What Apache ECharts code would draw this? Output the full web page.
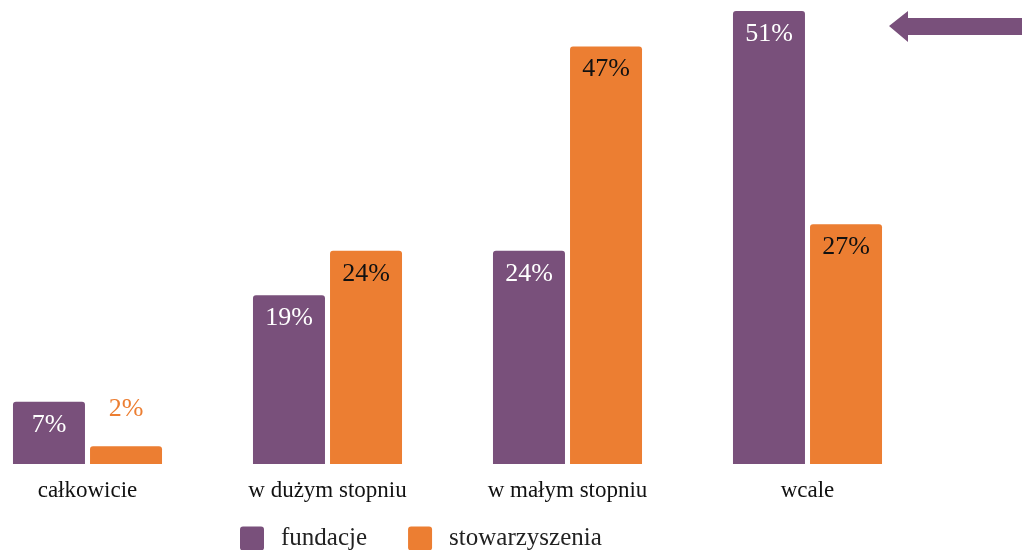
<!DOCTYPE html>
<html lang="pl">
<head>
<meta charset="UTF-8">
<title>Wykres</title>
<script src="https://cdn.jsdelivr.net/npm/echarts@6/dist/echarts.min.js"></script>
<style>
  html, body { margin: 0; padding: 0; background: #fff; }
  #main { width: 1022px; height: 550px; }
</style>
</head>
<body>
<div id="main"></div>
<script>
var categories = ['całkowicie', 'w dużym stopniu', 'w małym stopniu', 'wcale'];
var fundacje = [7, 19, 24, 51];
var stowarzyszenia = [2, 24, 47, 27];

var purple = '#79507b';
var orange = '#ec7e32';
var serif = '"Liberation Serif", "DejaVu Serif", serif';

var chart = echarts.init(document.getElementById('main'));

var stowData = stowarzyszenia.map(function (v) {
    if (v < 5) {
        return { value: v, label: { position: 'top', distance: 24, color: orange } };
    }
    return v;
});

// square with slightly rounded corners for legend
var squareIcon = 'path://M3,0 L21,0 Q24,0 24,3 L24,21 Q24,24 21,24 L3,24 Q0,24 0,21 L0,3 Q0,0 3,0 Z';

var option = {
    animation: false,
    grid: { left: -32.5, width: 960, top: 11, bottom: 86, outerBoundsMode: 'none', containLabel: false },
    legend: {
        left: 235,
        top: 521,
        itemWidth: 24,
        itemHeight: 24,
        itemGap: 41,
        icon: squareIcon,
        textStyle: { fontFamily: serif, fontSize: 25, color: '#222', padding: [0, 0, 0, 12] },
        data: ['fundacje', 'stowarzyszenia']
    },
    xAxis: {
        type: 'category',
        data: categories,
        axisLine: { show: false },
        axisTick: { show: false },
        axisLabel: { fontFamily: serif, fontSize: 23, color: '#111', margin: 15 }
    },
    yAxis: {
        type: 'value',
        min: 0,
        max: 51,
        show: false,
        splitLine: { show: false }
    },
    series: [{
        name: 'fundacje',
        type: 'bar',
        barWidth: 72,
        barGap: '7%',
        itemStyle: { color: purple, borderRadius: [3, 3, 0, 0] },
        label: {
            show: true,
            position: 'insideTop',
            distance: 10,
            formatter: '{c}%',
            fontFamily: serif,
            fontSize: 26,
            color: '#fff'
        },
        data: fundacje
    }, {
        name: 'stowarzyszenia',
        type: 'bar',
        barWidth: 72,
        itemStyle: { color: orange, borderRadius: [3, 3, 0, 0] },
        label: {
            show: true,
            position: 'insideTop',
            distance: 10,
            formatter: '{c}%',
            fontFamily: serif,
            fontSize: 26,
            color: '#111'
        },
        data: stowData
    }],
    graphic: [{
        type: 'polygon',
        shape: {
            points: [[889, 26], [908, 11], [908, 18], [1022, 18], [1022, 35], [908, 35], [908, 42]]
        },
        style: { fill: purple }
    }]
};

chart.setOption(option);
window.onresize = chart.resize;
</script>
</body>
</html>
